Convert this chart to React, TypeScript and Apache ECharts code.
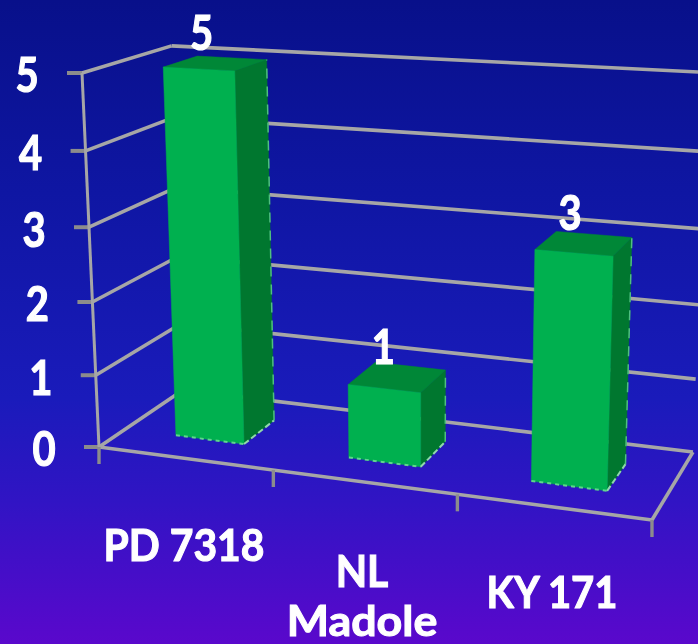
import React, { useEffect, useRef } from "react";
import * as echarts from "echarts";

const categories = ["PD 7318", "NL\nMadole", "KY 171"];
const barValues = [5, 1, 3];
const valueTicks = [0, 1, 2, 3, 4, 5];
const categoryEdges = [0, 1 / 3, 2 / 3, 1];

const W = 698;
const H = 644;
const FONT = '"Lato", "Open Sans", sans-serif';

// perspective of the 3D box: u along the categories, w up the values, d into the depth, all in 0..1
function project(u: number, w: number, d: number): number[] {
  const q = 1 - 0.0791 * u + 0.0907 * d - 0.05 * w;
  const x = 99 + 501.4 * u + 100.6 * d - 21.1 * w;
  const y = 447 + 31.9 * u - 21.6 * d - 377.65 * w - 10 * u * w;
  return [x / q, y / q];
}

const labelCentres = [
  [184, 544],
  [362, 570],
  [552, 591],
];
const labelWidths = [[1.02], [1.02, 1.12], [1.0]];
const labelHeights = [[1.1], [1.1, 1.04], [1.1]];
const LINE_GAP = 50;
const GRID = "#a6a6a6";
const TICK = "#8c8c8c";

function line(a: number[], b: number[], stroke: string, lineWidth: number, dash?: number[]) {
  return {
    type: "line",
    shape: { x1: a[0], y1: a[1], x2: b[0], y2: b[1] },
    style: { stroke, lineWidth, lineDash: dash, fill: null },
  };
}

// a heavy white label
function label(text: string, x: number, y: number, sx: number, sy: number) {
  return {
    type: "text",
    x,
    y,
    scaleX: sx,
    scaleY: sy,
    style: {
      text,
      x: 0,
      y: 0,
      fill: "#ffffff",
      stroke: "#ffffff",
      lineWidth: 1,
      font: `bold 40px ${FONT}`,
      lineHeight: 40,
      align: "center",
      verticalAlign: "middle",
    },
  };
}

function toWallV(api: any, coordSys: any, value: number) {
  const p = api.coord([0, value]);
  return (coordSys.y + coordSys.height - p[1]) / coordSys.height;
}

function renderGrid(params: any, api: any) {
  const cs = params.coordSys;
  const tick = api.value(1);
  const w = toWallV(api, cs, tick);
  const fl = project(0, w, 0);
  const bl = project(0, w, 1);
  const br = project(1, w, 1);
  const children: any[] = [
    line(fl, bl, GRID, 3.6),
    line(bl, br, GRID, 3.6),
    line([fl[0] - 15, fl[1]], fl, TICK, 4),
    label(String(tick), fl[0] - 55, fl[1] + 1, 1.0, 1.18),
  ];
  return { type: "group", children };
}

function renderFrame(params: any, api: any) {
  // value axis and floor outline, from the value scale's two ends
  const cs = params.coordSys;
  const top = toWallV(api, cs, valueTicks[valueTicks.length - 1]);
  return {
    type: "group",
    children: [
      line(project(0, 0, 0), project(0, top, 0), GRID, 3),
      line(project(0, 0, 0), project(1, 0, 0), GRID, 3.6),
      line(project(1, 0, 0), project(1, 0, 1), GRID, 3.6),
    ],
  };
}

function renderEdgeTick(params: any, api: any) {
  const u = api.value(0);
  const p = project(u, 0, 0);
  return line([p[0], p[1]], [p[0], p[1] + 17], TICK, 3.4);
}

function renderBar(params: any, api: any) {
  const cs = params.coordSys;
  const i = api.value(0);
  const v = api.value(1);
  const c = api.coord([i, v]);
  const band = (api.size([1, 0]) as number[])[0];
  const half = band * 0.2;
  const u0 = (c[0] - half - cs.x) / cs.width;
  const u1 = (c[0] + half - cs.x) / cs.width;
  const w = (cs.y + cs.height - c[1]) / cs.height;
  const d0 = 0.3;
  const d1 = 0.7;
  const a = project(u0, 0, d0);
  const b = project(u1, 0, d0);
  const e = project(u1, 0, d1);
  const ta = project(u0, w, d0);
  const tb = project(u1, w, d0);
  const te = project(u1, w, d1);
  const tf = project(u0, w, d1);
  const topMid = project((u0 + u1) / 2, w, (d0 + d1) / 2);
  const poly = (points: number[][], fill: string) => ({
    type: "polygon",
    shape: { points },
    style: { fill, stroke: fill, lineWidth: 0.5 },
  });
  return {
    type: "group",
    children: [
      poly([b, e, te, tb], "#00772f"),
      poly([ta, tb, te, tf], "#008737"),
      poly([a, b, tb, ta], "#00b04f"),
      line(a, b, "#5fd68d", 2, [4, 4]),
      line(b, e, "#8fd8ab", 2, [6, 3]),
      line(e, te, "#4fbf80", 1.5, [10, 8]),
      label(String(v), topMid[0] - 14, topMid[1] - 32, 1.0, 1.18),
    ],
  };
}

function renderCategoryLabel(params: any, api: any) {
  const i = api.value(0);
  const lines = categories[i].split("\n");
  return {
    type: "group",
    children: lines.map((t, k) =>
      label(t, labelCentres[i][0], labelCentres[i][1] + k * LINE_GAP, labelWidths[i][k], labelHeights[i][k])
    ),
  };
}

export default function App() {
  const ref = useRef<HTMLDivElement>(null);
  useEffect(() => {
    const chart = echarts.init(ref.current!, undefined, { renderer: "svg" });
    const base = { type: "custom", clip: false, silent: true, coordinateSystem: "cartesian2d" };
    chart.setOption({
      animation: false,
      backgroundColor: new echarts.graphic.LinearGradient(0, 0, 0, 1, [
        { offset: 0, color: "#08108a" },
        { offset: 0.3, color: "#0f16a3" },
        { offset: 0.62, color: "#1a1bbb" },
        { offset: 0.78, color: "#3114c4" },
        { offset: 1, color: "#5a08cc" },
      ]),
      grid: { left: 0, top: 0, width: W, height: H },
      xAxis: { type: "category", data: categories, show: false },
      yAxis: { type: "value", min: 0, max: 5, interval: 1, show: false },
      series: [
        { ...base, renderItem: renderGrid, data: valueTicks.map((t) => [0, t]), z: 1 },
        { ...base, renderItem: renderFrame, data: [[0, 0]], z: 2 },
        {
          ...base,
          renderItem: renderEdgeTick,
          data: categoryEdges.map((u) => [u, 0]),
          encode: { x: 0, y: 1 },
          z: 2,
        },
        { ...base, renderItem: renderBar, data: barValues.map((v, i) => [i, v]), z: 3 },
        { ...base, renderItem: renderCategoryLabel, data: categories.map((_, i) => [i, 0]), z: 4 },
      ],
    });
    return () => chart.dispose();
  }, []);
  return (
    <div
      ref={ref}
      style={{ position: "absolute", left: 0, top: 0, width: W, height: H, filter: "blur(0.5px)" }}
    />
  );
}
